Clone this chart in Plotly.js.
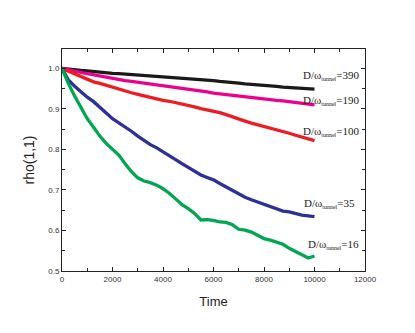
<!DOCTYPE html>
<html>
<head>
<meta charset="utf-8">
<script src="https://cdn.plot.ly/plotly-3.0.1.min.js"></script>
<style>
  html, body { margin: 0; padding: 0; background: #ffffff; }
  #chart { width: 415px; height: 333px; }
</style>
</head>
<body>
<div id="chart"></div>
<script>
// sampling times shared by every curve
const time = [0, 250, 500, 750, 1000, 1250, 1500, 1750, 2000, 2250, 2500, 2750, 3000, 3250,
  3500, 3750, 4000, 4250, 4500, 4750, 5000, 5250, 5500, 5750, 6000, 6250, 6500, 6750,
  7000, 7250, 7500, 7750, 8000, 8250, 8500, 8750, 9000, 9250, 9500, 9750, 10000];

// rho(1,1) for each D/omega_tunnel ratio
const rho390 = [1.000, 0.999, 0.997, 0.995, 0.994, 0.992, 0.991, 0.990, 0.988, 0.987, 0.986, 0.984,
  0.983, 0.982, 0.981, 0.980, 0.979, 0.978, 0.977, 0.976, 0.975, 0.973, 0.972, 0.971, 0.970,
  0.968, 0.967, 0.965, 0.964, 0.962, 0.961, 0.960, 0.959, 0.957, 0.956, 0.954, 0.953, 0.952,
  0.951, 0.950, 0.949];
const rho190 = [1.000, 0.996, 0.993, 0.990, 0.987, 0.984, 0.982, 0.979, 0.976, 0.973, 0.970, 0.968,
  0.966, 0.964, 0.962, 0.960, 0.958, 0.955, 0.953, 0.951, 0.949, 0.947, 0.945, 0.942, 0.939,
  0.937, 0.935, 0.933, 0.931, 0.929, 0.928, 0.926, 0.925, 0.923, 0.921, 0.920, 0.918, 0.916,
  0.914, 0.912, 0.910];
const rho100 = [1.000, 0.993, 0.986, 0.980, 0.973, 0.967, 0.963, 0.958, 0.953, 0.948, 0.944, 0.940,
  0.936, 0.932, 0.928, 0.924, 0.921, 0.919, 0.916, 0.913, 0.909, 0.905, 0.901, 0.898, 0.895,
  0.891, 0.886, 0.880, 0.875, 0.870, 0.865, 0.861, 0.857, 0.854, 0.850, 0.845, 0.840, 0.835,
  0.831, 0.825, 0.822];
const rho35 = [1.000, 0.972, 0.956, 0.942, 0.929, 0.918, 0.905, 0.890, 0.876, 0.866, 0.855, 0.845,
  0.833, 0.822, 0.812, 0.804, 0.795, 0.784, 0.775, 0.765, 0.756, 0.748, 0.737, 0.731, 0.725,
  0.716, 0.707, 0.698, 0.690, 0.682, 0.676, 0.670, 0.665, 0.659, 0.653, 0.648, 0.646, 0.641,
  0.638, 0.636, 0.634];
const rho16 = [1.000, 0.963, 0.932, 0.902, 0.876, 0.855, 0.833, 0.815, 0.800, 0.786, 0.765, 0.745,
  0.730, 0.722, 0.718, 0.712, 0.703, 0.692, 0.678, 0.664, 0.654, 0.642, 0.626, 0.627, 0.625,
  0.621, 0.620, 0.614, 0.603, 0.601, 0.596, 0.588, 0.580, 0.576, 0.572, 0.566, 0.556, 0.548,
  0.541, 0.532, 0.537];

const ratios = ['390', '190', '100', '35', '16'];
const colors = ['#1a1a1a', '#ec008c', '#ed1c24', '#2e3192', '#00a651'];
const seriesList = [rho390, rho190, rho100, rho35, rho16];

const traces = seriesList.map((ys, i) => ({
  type: 'scatter',
  mode: 'lines',
  x: time,
  y: ys,
  name: ratios[i],
  line: { color: colors[i], width: 3.3 },
  showlegend: false
}));

// label spots next to the curve ends
const labelX = [9450, 9450, 9450, 9500, 9650];
const labelY = [0.983, 0.922, 0.844, 0.666, 0.565];

const annotations = ratios.map((r, i) => ({
  x: labelX[i], y: labelY[i], xref: 'x', yref: 'y',
  xanchor: 'left', yanchor: 'middle', showarrow: false,
  text: 'D/ω<sub><span style="font-size:6px">tunnel</span></sub>=' + r,
  font: { family: 'Liberation Serif, Times New Roman, serif', size: 11, color: '#222' }
}));

const sans = 'Liberation Sans, Arial, sans-serif';

const axisBase = {
  showline: true, linecolor: '#222', linewidth: 1, mirror: 'ticks',
  ticks: 'inside', ticklen: 4, tickcolor: '#222', showgrid: false, zeroline: false,
  tickfont: { family: sans, size: 8, color: '#333' }
};

const layout = {
  width: 415, height: 333,
  margin: { l: 62, r: 50, t: 49, b: 62 },
  paper_bgcolor: '#ffffff', plot_bgcolor: '#ffffff',
  xaxis: Object.assign({}, axisBase, {
    range: [0, 12000], dtick: 2000, tickformat: 'd',
    minor: { dtick: 1000, ticks: 'inside', ticklen: 3, tickcolor: '#222' },
    title: { text: 'Time', font: { family: sans, size: 13, color: '#222' }, standoff: 14 }
  }),
  yaxis: Object.assign({}, axisBase, {
    range: [0.5, 1.048], dtick: 0.1, tick0: 0.5, tickformat: '.1f',
    minor: { dtick: 0.05, ticks: 'inside', ticklen: 3, tickcolor: '#222' },
    title: { text: 'rho(1,1)', font: { family: sans, size: 14, color: '#222' }, standoff: 10 }
  }),
  annotations: annotations
};

Plotly.newPlot('chart', traces, layout, { displayModeBar: false, staticPlot: true });
</script>
</body>
</html>
